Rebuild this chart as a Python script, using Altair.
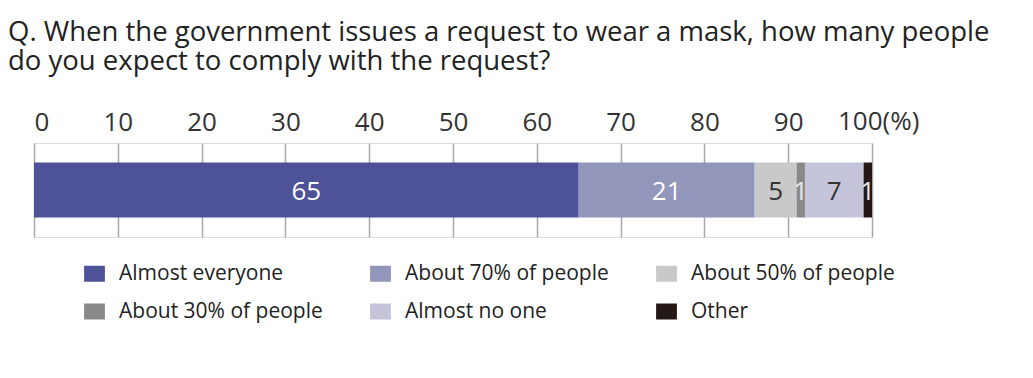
import altair as alt
import pandas as pd

title_lines = [
    "Q. When the government issues a request to wear a mask, how many people",
    "do you expect to comply with the request?",
]
categories = ["Almost everyone", "About 70% of people", "About 50% of people",
              "About 30% of people", "Almost no one", "Other"]
values = [65, 21, 5, 1, 7, 1]
colors = ["#4e5399", "#9396bb", "#c9c9c9", "#898989", "#c4c5db", "#231815"]
label_colors = ["#ffffff", "#ffffff", "#333333", "#e6e6e6", "#333333", "#e6e6e6"]
tick_values = [0, 10, 20, 30, 40, 50, 60, 70, 80, 90, 100]

FONT = "Open Sans"

df = pd.DataFrame({
    "category": categories,
    "value": values,
    "order": list(range(len(categories))),
    "lcolor": label_colors,
    "row": ["q"] * len(categories),
})
df["end"] = df["value"].cumsum()
df["start"] = df["end"] - df["value"]
df["mid"] = (df["start"] + df["end"]) / 2

xscale = alt.Scale(domain=[0, 100], nice=False, zero=True)
yscale = alt.Scale(paddingOuter=0.355, paddingInner=0)

bars = alt.Chart(df).mark_bar(stroke=None).encode(
    x=alt.X("start:Q", scale=xscale,
            axis=alt.Axis(orient="top", values=tick_values, title=None,
                          domain=False, ticks=False, tickSize=0,
                          grid=True, gridColor="#a8a8a8", gridWidth=1.5,
                          labelFont=FONT, labelFontSize=26, labelColor="#333333",
                          labelBaseline="alphabetic", labelPadding=13,
                          labelExpr="datum.value == 100 ? '' : datum.label")),
    x2="end:Q",
    y=alt.Y("row:N", scale=yscale, axis=None),
    color=alt.Color("category:N", scale=alt.Scale(domain=categories, range=colors),
                    sort=categories,
                    legend=alt.Legend(title=None, orient="none", legendX=50, legendY=120,
                                      columns=3, direction="horizontal",
                                      gridAlign="all", columnPadding=47, rowPadding=16,
                                      symbolType="M-1.3,-1H1.3V1H-1.3Z", symbolSize=256,
                                      symbolStrokeWidth=0, symbolOffset=0,
                                      labelFont=FONT, labelFontSize=21, labelColor="#222222",
                                      labelOffset=14, labelLimit=400)),
    order=alt.Order("order:Q"),
)

texts = alt.Chart(df).mark_text(font=FONT, fontSize=26, baseline="middle", dy=2).encode(
    x=alt.X("mid:Q", scale=xscale),
    y=alt.Y("row:N", scale=yscale, axis=None),
    text=alt.Text("value:Q"),
    color=alt.Color("lcolor:N", scale=None, legend=None),
)

pct_df = pd.DataFrame({"x": [100], "t": ["100(%)"]})
pct = alt.Chart(pct_df).mark_text(font=FONT, fontSize=26, align="left",
                                  baseline="alphabetic", dx=-34, color="#333333").encode(
    x=alt.X("x:Q", scale=xscale),
    y=alt.value(-13),
    text="t:N",
)

chart = alt.layer(bars, texts, pct).properties(
    width=838, height=94,
    title=alt.TitleParams(text=title_lines, anchor="start", frame="group",
                          font=FONT, fontSize=27.5, fontWeight="normal",
                          color="#222222", lineHeight=29, dx=-26, offset=34),
    autosize=alt.AutoSizeParams(type="none"),
    padding={"left": 34, "top": 143, "right": 161, "bottom": 141},
).configure_view(stroke=None).configure(background="white")

chart.save("out.html", embed_options={"renderer": "svg", "actions": False})
